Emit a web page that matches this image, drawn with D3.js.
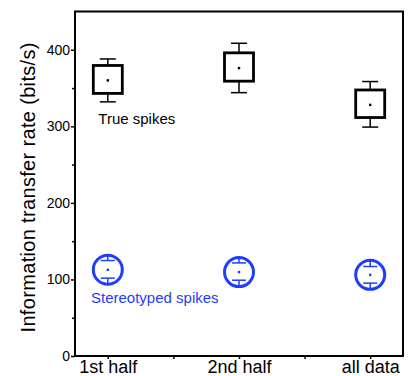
<!DOCTYPE html>
<html><head><meta charset="utf-8">
<script src="https://cdn.jsdelivr.net/npm/d3@7"></script>
<style>body{margin:0;background:#fff}svg{display:block}text{font-family:"Liberation Sans",Arial,sans-serif}</style>
</head><body>
<svg id="c" width="410" height="376"></svg>
<script>
// ---- data ----
const categories = ["1st half", "2nd half", "all data"];
const yTicks = [0, 100, 200, 300, 400];
const yMinorTicks = [50, 150, 250, 350];
// True spikes (box chart)
const trueWhiskerLo = [332, 344, 299];
const trueBoxLo     = [343, 359, 311.5];
const trueMean      = [360, 376, 328];
const trueBoxHi     = [379.5, 396, 347.5];
const trueWhiskerHi = [388, 408.5, 358.5];
// Stereotyped spikes (circle markers with whiskers)
const stereoWhiskerLo = [93.6, 90.6, 87];
const stereoCapLo     = [101.7, 99, 95.2];
const stereoMean      = [112.6, 109.6, 106];
const stereoCapHi     = [124.7, 121.6, 116.9];
const stereoWhiskerHi = [131.6, 128.6, 125];

const svg = d3.select("#c");
const L = 75, R = 403, T = 11.5, B = 356;
const x = d3.scaleLinear().domain([0.75, 3.25]).range([L, R]);
const y = d3.scaleLinear().domain([0, 450]).range([B, T]);
const blue = "#1f3dff";
const FONT = '"Liberation Sans",Arial,sans-serif';

// frame
svg.append("rect").attr("x", L).attr("y", T).attr("width", R - L).attr("height", B - T)
  .attr("fill", "none").attr("stroke", "#000").attr("stroke-width", 2);

// y axis
const yAx = svg.append("g").attr("transform", `translate(${L},0)`)
  .call(d3.axisLeft(y).tickValues(yTicks).tickSize(4).tickPadding(1).tickFormat(d3.format("d")));
yAx.select(".domain").remove();
yAx.selectAll("line").attr("stroke-width", 1.5);
yAx.selectAll("text").attr("font-size", 14).attr("fill", "#000").attr("font-family", FONT);
const yMin = svg.append("g").attr("transform", `translate(${L},0)`)
  .call(d3.axisLeft(y).tickValues(yMinorTicks).tickSize(3).tickFormat(""));
yMin.select(".domain").remove();
yMin.selectAll("line").attr("stroke-width", 1.5);

// x axis
const xAx = svg.append("g").attr("transform", `translate(0,${B})`)
  .call(d3.axisBottom(x).tickValues([1, 2, 3]).tickSize(3).tickPadding(1).tickFormat((d, i) => categories[i]));
xAx.select(".domain").remove();
xAx.selectAll("line").attr("stroke-width", 1.5);
xAx.selectAll("text").attr("font-size", 18).attr("fill", "#000").attr("font-family", FONT);
const xMin = svg.append("g").attr("transform", `translate(0,${B})`)
  .call(d3.axisBottom(x).tickValues([1.5, 2.5]).tickSize(3).tickFormat(""));
xMin.select(".domain").remove();
xMin.selectAll("line").attr("stroke-width", 1.5);

// y title
svg.append("text").attr("transform", `translate(35,187.5) rotate(-90)`)
  .attr("text-anchor", "middle").attr("font-size", 20).attr("fill", "#000")
  .attr("textLength", 290).attr("lengthAdjust", "spacing")
  .text("Information transfer rate (bits/s)");

// True spikes boxes
const boxW = 29, capW = 16;
categories.forEach((c, i) => {
  const cx = x(i + 1);
  const g = svg.append("g");
  g.append("line").attr("x1", cx).attr("x2", cx).attr("y1", y(trueWhiskerHi[i])).attr("y2", y(trueBoxHi[i])).attr("stroke", "#000").attr("stroke-width", 1.5);
  g.append("line").attr("x1", cx).attr("x2", cx).attr("y1", y(trueBoxLo[i])).attr("y2", y(trueWhiskerLo[i])).attr("stroke", "#000").attr("stroke-width", 1.5);
  g.append("line").attr("x1", cx - capW / 2).attr("x2", cx + capW / 2).attr("y1", y(trueWhiskerHi[i])).attr("y2", y(trueWhiskerHi[i])).attr("stroke", "#000").attr("stroke-width", 1.5);
  g.append("line").attr("x1", cx - capW / 2).attr("x2", cx + capW / 2).attr("y1", y(trueWhiskerLo[i])).attr("y2", y(trueWhiskerLo[i])).attr("stroke", "#000").attr("stroke-width", 1.5);
  g.append("rect").attr("x", cx - boxW / 2).attr("y", y(trueBoxHi[i])).attr("width", boxW)
    .attr("height", y(trueBoxLo[i]) - y(trueBoxHi[i])).attr("fill", "#fff").attr("stroke", "#000").attr("stroke-width", 2.8);
  g.append("rect").attr("x", cx - 1.2).attr("y", y(trueMean[i]) - 1.2).attr("width", 2.4).attr("height", 2.4).attr("fill", "#000");
});

// Stereotyped spikes
const r = 14.5, sCapW = 14;
categories.forEach((c, i) => {
  const cx = x(i + 1);
  const g = svg.append("g");
  g.append("circle").attr("cx", cx).attr("cy", y(stereoMean[i])).attr("r", r).attr("fill", "none").attr("stroke", blue).attr("stroke-width", 3);
  g.append("line").attr("x1", cx).attr("x2", cx).attr("y1", y(stereoWhiskerHi[i])).attr("y2", y(stereoCapHi[i])).attr("stroke", blue).attr("stroke-width", 1.5);
  g.append("line").attr("x1", cx).attr("x2", cx).attr("y1", y(stereoCapLo[i])).attr("y2", y(stereoWhiskerLo[i])).attr("stroke", blue).attr("stroke-width", 1.5);
  g.append("line").attr("x1", cx - sCapW / 2).attr("x2", cx + sCapW / 2).attr("y1", y(stereoCapHi[i])).attr("y2", y(stereoCapHi[i])).attr("stroke", blue).attr("stroke-width", 1.5);
  g.append("line").attr("x1", cx - sCapW / 2).attr("x2", cx + sCapW / 2).attr("y1", y(stereoCapLo[i])).attr("y2", y(stereoCapLo[i])).attr("stroke", blue).attr("stroke-width", 1.5);
  g.append("rect").attr("x", cx - 1.2).attr("y", y(stereoMean[i]) - 1.2).attr("width", 2.4).attr("height", 2.4).attr("fill", blue);
});

// labels
svg.append("text").attr("x", 98.3).attr("y", 124).attr("font-size", 15).attr("fill", "#000").text("True spikes");
svg.append("text").attr("x", 91).attr("y", 303.3).attr("font-size", 15).attr("fill", blue).text("Stereotyped spikes");
</script>
</body></html>
